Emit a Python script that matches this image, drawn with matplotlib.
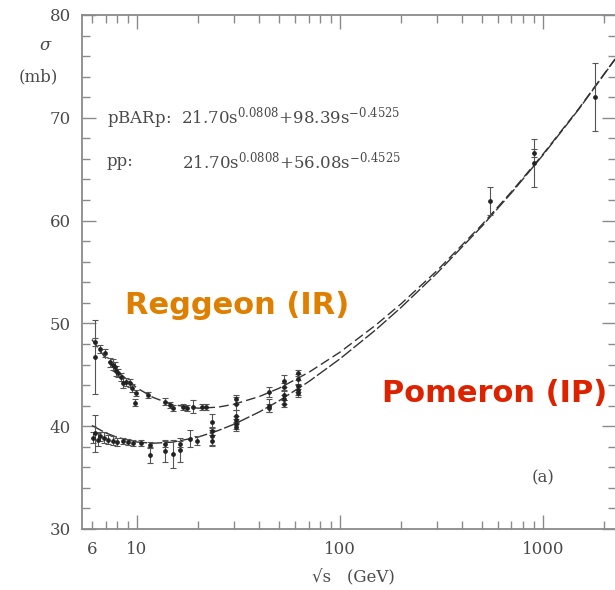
import matplotlib
matplotlib.use('Agg')

import matplotlib.pyplot as plt

# Fit curves (sqrt(s) in GeV, sigma in mb)
sqrt_s_fit = [6, 7, 8, 10, 12, 15, 20, 25, 30, 40, 50, 70, 100, 150, 200,
              300, 500, 700, 1000, 1500, 2300]
sigma_pbarp_fit = [48.43, 46.63, 45.35, 43.72, 42.80, 42.09, 41.75, 41.85, 42.13,
                   42.88, 43.68, 45.22, 47.20, 49.83, 51.90, 55.11, 59.59, 62.81,
                   66.45, 70.88, 75.90]
sigma_pp_fit = [40.07, 39.36, 38.91, 38.46, 38.34, 38.45, 38.94, 39.56, 40.18,
                41.38, 42.46, 44.32, 46.55, 49.37, 51.55, 54.87, 59.44, 62.70,
                66.37, 70.82, 75.86]

# pbar-p measurements
pbarp_sqrt_s = [6.2, 6.2, 6.6, 6.95, 7.4, 7.6, 7.8, 7.9, 8.1, 8.3, 8.5, 8.8, 9.2,
                9.5, 9.9, 9.8, 11.3, 13.7, 14.5, 15.0, 16.8, 17.6, 18.9, 21.0,
                21.8, 30.6, 30.6, 44.7, 52.8, 52.8, 62.3, 62.3, 546, 900, 900, 1800]
pbarp_sigma = [46.7, 48.2, 47.5, 47.1, 46.2, 46.0, 45.8, 45.4, 45.2, 44.8, 44.2,
               44.3, 44.2, 43.7, 43.2, 42.3, 43.0, 42.4, 42.1, 41.8, 41.9, 41.8,
               41.9, 41.9, 41.9, 42.2, 42.6, 43.3, 44.4, 43.8, 44.6, 45.2, 61.9,
               65.6, 66.6, 72.0]
pbarp_err = [3.6, 0.4, 0.4, 0.4, 0.4, 0.5, 0.4, 0.5, 0.4, 0.4, 0.5, 0.4, 0.4,
             0.4, 0.3, 0.3, 0.3, 0.3, 0.3, 0.3, 0.3, 0.3, 0.6, 0.3, 0.3, 0.6,
             0.4, 0.5, 0.6, 0.4, 0.5, 0.3, 1.4, 2.3, 0.4, 3.3]

# p-p measurements
pp_sqrt_s = [6.1, 6.2, 6.4, 6.6, 6.9, 7.2, 7.6, 8.0, 8.5, 9.0, 9.6, 10.5, 11.6,
             11.6, 13.7, 13.7, 15.0, 16.3, 16.3, 18.3, 19.8, 23.5, 23.5, 23.5,
             23.5, 30.6, 30.6, 30.6, 30.6, 44.7, 44.7, 52.8, 52.8, 52.8, 62.3,
             62.3, 62.3]
pp_sigma = [38.9, 39.3, 38.7, 39.0, 38.9, 38.7, 38.6, 38.5, 38.6, 38.5, 38.4,
            38.4, 37.2, 38.2, 37.6, 38.3, 37.3, 37.7, 38.3, 38.8, 38.6, 39.0,
            38.6, 39.5, 40.4, 40.2, 40.6, 39.9, 41.0, 41.8, 42.0, 42.6, 43.0,
            42.2, 43.5, 43.2, 43.9]
pp_err = [0.5, 1.8, 0.6, 0.4, 0.5, 0.4, 0.4, 0.4, 0.3, 0.3, 0.3, 0.3, 0.8, 0.3,
          1.1, 0.3, 1.4, 1.2, 0.3, 0.8, 0.4, 0.8, 0.5, 0.4, 0.8, 0.5, 0.4, 0.4,
          0.6, 0.4, 0.6, 0.4, 0.5, 0.3, 0.5, 0.4, 0.6]

x_major = [10, 100, 1000]
x_minor = [6, 7, 8, 9, 20, 30, 40, 50, 60, 70, 80, 90,
           200, 300, 400, 500, 600, 700, 800, 900, 2000]
x_minor_labels = ['6'] + [''] * 20

plt.rcParams['font.family'] = ['DejaVu Serif']
plt.rcParams['mathtext.fontset'] = 'dejavuserif'

fig = plt.figure(figsize=(6.15, 5.9), dpi=100)
ax = fig.add_axes([0.1333, 0.1034, 0.8683, 0.8712])

axis_grey = '#8a8a8a'
text_grey = '#4a4a4a'

# Fit curves
ax.plot(sqrt_s_fit, sigma_pbarp_fit, color='#333333', lw=1.0,
        linestyle=(0, (7, 3)), zorder=2)
ax.plot(sqrt_s_fit, sigma_pp_fit, color='#333333', lw=1.0,
        linestyle=(0, (9, 2)), zorder=2)

# Data points
for xs, ys, es in [(pbarp_sqrt_s, pbarp_sigma, pbarp_err),
                   (pp_sqrt_s, pp_sigma, pp_err)]:
    ax.errorbar(xs, ys, yerr=es, fmt='o', ms=2.4, color='#222222',
                ecolor='#555555', elinewidth=0.8, capsize=2.2, capthick=0.8,
                zorder=3)

ax.set_xscale('log')
ax.set_xlim(5.36, 2290)
ax.set_ylim(30, 80)

ax.set_xticks(x_major)
ax.set_xticklabels(['10', '100', '1000'])
ax.set_xticks(x_minor, minor=True)
ax.set_xticklabels(x_minor_labels, minor=True)
ax.set_yticks(range(30, 81, 10))
ax.set_yticks(range(30, 81, 2), minor=True)

ax.tick_params(which='both', direction='in', top=True, right=True,
               color=axis_grey, width=1.0, labelcolor=text_grey, labelsize=12)
ax.tick_params(which='major', length=10)
ax.tick_params(which='minor', length=6)
ax.tick_params(axis='x', which='both', pad=9)
ax.tick_params(axis='y', which='both', pad=8)

for sp in ax.spines.values():
    sp.set_color(axis_grey)
    sp.set_linewidth(1.3)

# Axis titles
fig.text(45 / 615, 1 - 46 / 590, 'σ', fontsize=12, style='italic',
         color=text_grey, ha='center', va='center')
fig.text(38 / 615, 1 - 77 / 590, '(mb)', fontsize=12, color=text_grey,
         ha='center', va='center')
fig.text(353 / 615, 1 - 578 / 590, '√s   (GeV)', fontsize=12, color=text_grey,
         ha='center', va='center')

# Fit formulas
def px_text(x, y, s, **kw):
    fig.text(x / 615, 1 - y / 590, s, fontsize=12, color=text_grey,
             va='center', **kw)

px_text(107, 118, r'pBARp:  21.70s$^{0.0808}$+98.39s$^{-0.4525}$')
px_text(107, 162, 'pp:')
px_text(182, 162, r'21.70s$^{0.0808}$+56.08s$^{-0.4525}$')
px_text(543, 478, '(a)', ha='center')

# Annotations
fig.text(237 / 615, 1 - 305 / 590, 'Reggeon (IR)', fontsize=22,
         fontweight='bold', family='DejaVu Sans', color='#df7f00',
         ha='center', va='center')
fig.text(495 / 615, 1 - 393 / 590, 'Pomeron (IP)', fontsize=22,
         fontweight='bold', family='DejaVu Sans', color='#dd2200',
         ha='center', va='center')

fig.savefig('out.png', dpi=100)
